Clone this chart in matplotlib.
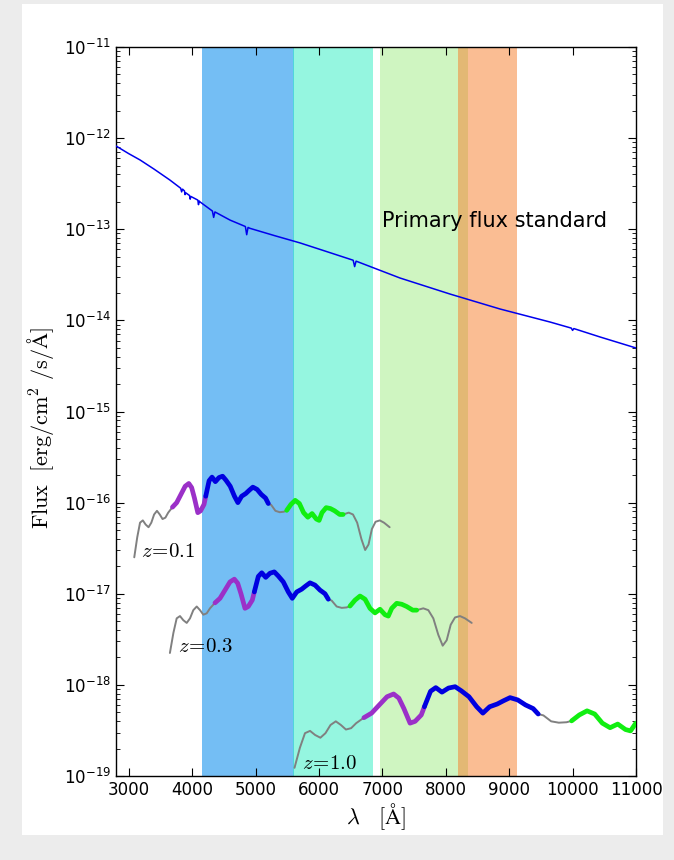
import numpy as np
import matplotlib
matplotlib.use("Agg")
import matplotlib.pyplot as plt
from matplotlib.patches import Rectangle
from matplotlib.ticker import NullFormatter, FixedLocator

plt.rcParams['mathtext.fontset'] = 'cm'

# ---------------- data ----------------
# Filter bands (observed wavelength, Angstrom)
band_lo = [4150, 5590, 6960, 8200]
band_hi = [5610, 6850, 8345, 9125]
band_colors = ['#1793ee', '#2defc3', '#a1ed85', '#f77d29']
band_alpha = [0.6, 0.5, 0.5, 0.5]

# Primary flux standard (lambda, log10 flux)
std_lam = [2800, 3000, 3180, 3400, 3650, 3820, 3835, 3850, 3880, 3889, 3900, 3960, 3970, 3980,
           4090, 4101, 4112, 4125, 4320, 4340, 4360, 4600, 4840, 4861, 4882, 4913, 5300, 5702,
           6100, 6540, 6563, 6586, 7278, 8067, 8855, 9644, 9980, 10000, 10020, 10432, 11000]
std_logf = [-12.086, -12.17, -12.24, -12.34, -12.46, -12.55, -12.59, -12.56, -12.58, -12.62, -12.60,
            -12.63, -12.67, -12.64, -12.68, -12.73, -12.69, -12.70, -12.80, -12.87, -12.81, -12.90,
            -12.97, -13.06, -12.98, -12.99, -13.07, -13.15, -13.24, -13.34, -13.41, -13.35, -13.535,
            -13.711, -13.875, -14.018, -14.085, -14.11, -14.09, -14.182, -14.303]

# Galaxy spectra (observed lambda, log10 flux)
z01_lam = [3088, 3135, 3179, 3223, 3267, 3313, 3357, 3401, 3446, 3490, 3534, 3579, 3623, 3690,
           3757, 3824, 3891, 3948, 3993, 4037, 4090, 4134, 4188, 4215, 4268, 4314, 4367, 4424,
           4481, 4535, 4601, 4668, 4722, 4781, 4847, 4900, 4958, 5025, 5091, 5158, 5202, 5247,
           5314, 5381, 5448, 5492, 5558, 5625, 5692, 5758, 5825, 5892, 5959, 6003, 6048, 6114,
           6181, 6248, 6328, 6382, 6470, 6537, 6603, 6670, 6729, 6782, 6835, 6893, 6960, 7026, 7115]
z01_logf = [-16.60, -16.38, -16.22, -16.195, -16.24, -16.27, -16.22, -16.13, -16.09, -16.13, -16.18,
            -16.165, -16.11, -16.05, -16.00, -15.91, -15.82, -15.79, -15.835, -15.95, -16.11, -16.09,
            -16.02, -15.93, -15.76, -15.72, -15.77, -15.725, -15.71, -15.755, -15.82, -15.93, -16.00,
            -15.93, -15.90, -15.865, -15.83, -15.855, -15.91, -15.95, -16.01, -16.025, -16.09, -16.105,
            -16.10, -16.085, -16.02, -15.975, -16.01, -16.11, -16.16, -16.12, -16.18, -16.195, -16.11,
            -16.055, -16.065, -16.09, -16.13, -16.13, -16.11, -16.13, -16.22, -16.40, -16.52, -16.46,
            -16.29, -16.21, -16.195, -16.22, -16.27]

z03_lam = [3650, 3705, 3757, 3809, 3861, 3915, 3967, 4019, 4073, 4125, 4177, 4230, 4282, 4361,
           4440, 4519, 4598, 4666, 4719, 4771, 4834, 4886, 4949, 4981, 5044, 5098, 5161, 5228,
           5296, 5359, 5438, 5517, 5580, 5650, 5728, 5791, 5859, 5938, 6017, 6096, 6148, 6201,
           6280, 6359, 6438, 6490, 6569, 6648, 6727, 6805, 6884, 6963, 7042, 7094, 7148, 7226,
           7305, 7384, 7479, 7542, 7646, 7725, 7804, 7882, 7952, 8015, 8078, 8146, 8225, 8304, 8409]
z03_logf = [-17.65, -17.43, -17.27, -17.245, -17.29, -17.32, -17.27, -17.18, -17.14, -17.18, -17.23,
            -17.215, -17.16, -17.10, -17.05, -16.96, -16.87, -16.84, -16.885, -17.00, -17.16, -17.14,
            -17.07, -16.98, -16.81, -16.77, -16.82, -16.775, -16.76, -16.805, -16.87, -16.98, -17.05,
            -16.98, -16.95, -16.915, -16.88, -16.905, -16.96, -17.00, -17.06, -17.075, -17.14, -17.155,
            -17.15, -17.135, -17.07, -17.025, -17.06, -17.16, -17.21, -17.17, -17.23, -17.245, -17.16,
            -17.105, -17.115, -17.14, -17.18, -17.18, -17.16, -17.18, -17.27, -17.45, -17.57, -17.51,
            -17.34, -17.26, -17.245, -17.27, -17.32]

z10_lam = [5615, 5700, 5780, 5860, 5940, 6023, 6103, 6183, 6266, 6346, 6426, 6508, 6588, 6709,
           6831, 6952, 7074, 7178, 7260, 7340, 7437, 7517, 7614, 7663, 7760, 7843, 7940, 8043,
           8148, 8245, 8366, 8488, 8585, 8692, 8812, 8909, 9014, 9135, 9257, 9378, 9458, 9540,
           9662, 9783, 9905, 9985, 10106, 10228, 10349, 10469, 10591, 10712, 10834, 10914, 10997]
z10_logf = [-18.91, -18.69, -18.53, -18.505, -18.55, -18.58, -18.53, -18.44, -18.40, -18.44, -18.49,
            -18.475, -18.42, -18.36, -18.31, -18.22, -18.13, -18.10, -18.145, -18.26, -18.42, -18.40,
            -18.33, -18.24, -18.07, -18.03, -18.08, -18.035, -18.02, -18.065, -18.13, -18.24, -18.31,
            -18.24, -18.21, -18.175, -18.14, -18.165, -18.22, -18.26, -18.32, -18.335, -18.40, -18.415,
            -18.41, -18.395, -18.33, -18.285, -18.32, -18.42, -18.47, -18.43, -18.49, -18.505, -18.42]

# coloured (rest-frame band) segments of each spectrum: (lo, hi) observed lambda
z01_segments = [(3690, 4215), (4215, 5202), (5492, 6382)]
z03_segments = [(4361, 4981), (4981, 6148), (6490, 7542)]
z10_segments = [(6709, 7663), (7663, 9458), (9985, 10997)]
segment_colors = ['#9b30c8', '#0000e0', '#11ee11']

spec_labels = ['$z\\!=\\!0.1$', '$z\\!=\\!0.3$', '$z\\!=\\!1.0$']
label_lam = [3200, 3770, 5730]
label_logf = [-16.53, -17.57, -18.86]

x_ticks = [3000, 4000, 5000, 6000, 7000, 8000, 9000, 10000, 11000]
y_ticks = [1e-19, 1e-18, 1e-17, 1e-16, 1e-15, 1e-14, 1e-13, 1e-12, 1e-11]

# ---------------- figure ----------------
W, H = 674, 860
fig = plt.figure(figsize=(W / 100, H / 100), dpi=100, facecolor='#ececec')
fig.patches.append(Rectangle((22 / W, 25 / H), (663 - 22) / W, (856 - 25) / H,
                             transform=fig.transFigure, facecolor='white',
                             edgecolor='none', zorder=-10))

ax = fig.add_axes([116 / W, (H - 776) / H, (636 - 116) / W, (776 - 47) / H])
ax.set_yscale('log')
ax.set_xlim(2800, 11000)
ax.set_ylim(1e-19, 1e-11)

for lo, hi, c, a in zip(band_lo, band_hi, band_colors, band_alpha):
    ax.axvspan(lo, hi, facecolor=c, alpha=a, edgecolor='none', zorder=1)

ax.plot(std_lam, 10 ** np.array(std_logf), color='#0000ee', lw=1.1, zorder=3)
ax.text(6990, 10 ** -12.91, 'Primary flux standard', fontsize=15, va='center', ha='left',
        zorder=4)

spectra = [(z01_lam, z01_logf, z01_segments), (z03_lam, z03_logf, z03_segments),
           (z10_lam, z10_logf, z10_segments)]
for (lam, logf, segs), lab, lx, ly in zip(spectra, spec_labels, label_lam, label_logf):
    lam = np.array(lam, dtype=float)
    f = 10 ** np.array(logf)
    ax.plot(lam, f, color='#808080', lw=1.4, zorder=3, solid_capstyle='round')
    for (lo, hi), c in zip(segs, segment_colors):
        m = (lam >= lo) & (lam <= hi)
        ax.plot(lam[m], f[m], color=c, lw=3.4, zorder=4, solid_capstyle='round',
                solid_joinstyle='round')
    ax.text(lx, 10 ** ly, lab, fontsize=15, va='center', ha='left', zorder=5)

ax.set_xticks(x_ticks)
ax.yaxis.set_major_locator(FixedLocator(y_ticks))
minor = [m * 10.0 ** e for e in range(-19, -11) for m in range(2, 10)]
ax.yaxis.set_minor_locator(FixedLocator(minor))
ax.yaxis.set_minor_formatter(NullFormatter())
ax.tick_params(which='both', direction='in', top=True, right=True, labelsize=12)
ax.tick_params(which='major', length=6, width=0.8)
ax.tick_params(which='minor', length=3, width=0.6)
for s in ax.spines.values():
    s.set_linewidth(1.0)

ax.set_xlabel(r'$\lambda\quad[\mathrm{\AA}]$', fontsize=16, labelpad=2)
ax.set_ylabel(r'$\mathrm{Flux}\ \ [\mathrm{erg/cm}^2\ \mathrm{/s/\AA}]$', fontsize=16)
ax.yaxis.set_label_coords(-0.116, 0.477)

fig.savefig('out.png', dpi=100, facecolor=fig.get_facecolor())
